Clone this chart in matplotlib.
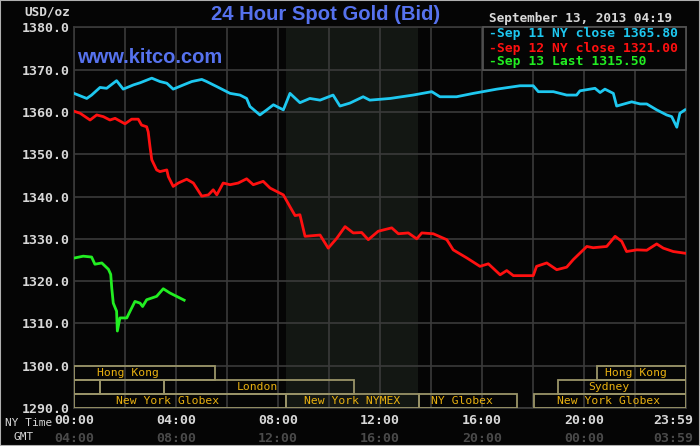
import matplotlib
matplotlib.use("Agg")
import matplotlib.pyplot as plt
from matplotlib.patches import Rectangle

# ---------------- data ----------------
sep11_hours = [0, 0.5, 0.69, 1.02, 1.28, 1.67, 1.93, 2.33, 2.59, 3.05, 3.37, 3.64, 3.89, 4.29, 4.62,
               5.01, 5.2, 5.6, 6.12, 6.51, 6.77, 6.9, 7.29, 7.56, 7.82, 8.21, 8.47, 8.86, 9.25, 9.65,
               10.16, 10.43, 10.82, 11.34, 11.6, 12.4, 13.3, 14.03, 14.35, 15.0, 15.66, 16.58, 17.49,
               18.01, 18.21, 18.8, 19.32, 19.71, 19.84, 20.43, 20.63, 20.82, 21.15, 21.28, 21.87, 22.2,
               22.46, 22.85, 23.24, 23.44, 23.64, 23.76, 23.96]
sep11_values = [1364.4, 1363.2, 1364.0, 1365.8, 1365.6, 1367.4, 1365.4, 1366.4, 1366.9, 1368.0, 1367.2,
                1366.8, 1365.4, 1366.4, 1367.2, 1367.7, 1367.2, 1366.0, 1364.4, 1364.0, 1363.2, 1361.3,
                1359.3, 1360.5, 1361.7, 1360.5, 1364.4, 1362.2, 1363.2, 1362.8, 1364.0, 1361.4, 1362.1,
                1363.6, 1362.8, 1363.2, 1364.0, 1364.8, 1363.6, 1363.6, 1364.4, 1365.4, 1366.2, 1366.2,
                1364.8, 1364.8, 1364.0, 1364.0, 1365.0, 1365.6, 1364.6, 1365.4, 1364.4, 1361.4, 1362.4,
                1361.9, 1361.9, 1360.5, 1359.3, 1358.9, 1356.4, 1359.7, 1360.5]

sep12_hours = [0.04, 0.24, 0.63, 0.89, 1.15, 1.41, 1.61, 2.0, 2.26, 2.52, 2.65, 2.85, 2.91, 2.98, 3.05,
               3.24, 3.37, 3.64, 3.7, 3.89, 4.09, 4.42, 4.68, 5.01, 5.27, 5.46, 5.6, 5.85, 6.12, 6.44,
               6.77, 7.03, 7.42, 7.69, 8.21, 8.47, 8.67, 8.86, 9.06, 9.65, 9.97, 10.3, 10.63, 10.95,
               11.28, 11.54, 11.93, 12.46, 12.72, 13.11, 13.44, 13.64, 14.09, 14.62, 14.87, 15.4,
               15.92, 16.25, 16.71, 16.97, 17.23, 18.01, 18.14, 18.54, 18.93, 19.32, 19.58, 20.11,
               20.36, 20.89, 21.22, 21.48, 21.67, 22.07, 22.46, 22.85, 23.11, 23.5, 23.96]
sep12_values = [1360.1, 1359.7, 1358.1, 1359.3, 1358.9, 1358.1, 1358.5, 1357.2, 1358.3, 1358.3, 1356.9,
                1356.5, 1355.3, 1351.8, 1348.7, 1346.3, 1345.9, 1346.3, 1344.7, 1342.4, 1343.2, 1344.1,
                1343.2, 1340.1, 1340.4, 1341.6, 1340.4, 1343.2, 1342.8, 1343.2, 1344.2, 1342.8, 1343.6,
                1342.0, 1340.4, 1337.6, 1335.5, 1335.7, 1330.6, 1330.9, 1327.8, 1330.1, 1332.9, 1331.4,
                1331.5, 1329.8, 1331.8, 1332.6, 1331.2, 1331.4, 1330.0, 1331.4, 1331.2, 1329.8, 1327.4,
                1325.5, 1323.5, 1324.1, 1321.5, 1322.5, 1321.3, 1321.3, 1323.5, 1324.3, 1322.7, 1323.3,
                1325.1, 1328.2, 1327.9, 1328.2, 1330.6, 1329.4, 1327.0, 1327.4, 1327.3, 1328.8, 1327.8,
                1327.0, 1326.6]

sep13_hours = [0.04, 0.36, 0.69, 0.82, 1.09, 1.35, 1.44, 1.48, 1.54, 1.67, 1.7, 1.8, 2.07, 2.2, 2.39,
               2.59, 2.69, 2.85, 3.24, 3.5, 3.76, 4.09, 4.32]
sep13_values = [1325.5, 1325.9, 1325.7, 1324.0, 1324.3, 1322.8, 1321.6, 1318.4, 1314.8, 1312.9, 1308.2,
                1311.3, 1311.3, 1312.9, 1315.2, 1314.8, 1314.0, 1315.6, 1316.4, 1318.2, 1317.2, 1316.2,
                1315.5]

legend_labels = ["-Sep 11 NY close 1365.80", "-Sep 12 NY close 1321.00", "-Sep 13 Last 1315.50"]

y_ticks = [1290, 1300, 1310, 1320, 1330, 1340, 1350, 1360, 1370, 1380]
x_tick_hours = [0, 4, 8, 12, 16, 20, 24]
ny_time_labels = ["00:00", "04:00", "08:00", "12:00", "16:00", "20:00", "23:59"]
gmt_labels = ["04:00", "08:00", "12:00", "16:00", "20:00", "00:00", "03:59"]

nymex_pit = (8.33, 13.5)

# sessions: (row, start hour, end hour, label, label centre hour)
sessions = [
    (0, 0.0, 5.53, "Hong Kong", 2.12),
    (0, 20.52, 24.0, "Hong Kong", 22.04),
    (1, 0.0, 1.02, "", None),
    (1, 1.02, 3.53, "", None),
    (1, 3.53, 10.98, "London", 7.2),
    (1, 18.99, 24.0, "Sydney", 20.96),
    (2, 0.0, 8.31, "New York Globex", 3.67),
    (2, 8.31, 13.53, "New York NYMEX", 10.9),
    (2, 13.53, 17.36, "NY Globex", 15.2),
    (2, 18.05, 24.0, "New York Globex", 20.96),
]

# ---------------- styling ----------------
W, H = 700, 446
BG = "#050505"
GRID = "#3a3a3a"
CYAN = "#1ec8f0"
RED = "#ff1010"
GREEN = "#22ee22"
BLUE = "#5672ee"
LIGHT = "#d8d8d8"
BOX_EDGE = "#9a9468"
BOX_TEXT = "#e8b010"
MONO = "DejaVu Sans Mono"

fig = plt.figure(figsize=(W / 100, H / 100), dpi=100, facecolor=BG)
left, right, top, bottom = 74, 686, 27.4, 408
ax = fig.add_axes([left / W, 1 - bottom / H, (right - left) / W, (bottom - top) / H])
ax.set_facecolor(BG)
ax.set_xlim(0, 24)
ax.set_ylim(1290, 1380)

ax.axvspan(*nymex_pit, color="#131713", zorder=0, lw=0)

ax.set_xticks(range(0, 25, 2))
ax.set_xticklabels([])
ax.set_yticks(y_ticks)
ax.set_yticklabels([f"{v:.1f}" for v in y_ticks], fontfamily=MONO, fontweight="bold",
                   fontsize=9.5, color=LIGHT)
ax.tick_params(length=0, pad=3)
ax.grid(True, color=GRID, lw=1.2, zorder=1)
for s in ax.spines.values():
    s.set_color(GRID)
    s.set_linewidth(1.2)

ax.plot(sep11_hours, sep11_values, color=CYAN, lw=2.0, zorder=3)
ax.plot(sep12_hours, sep12_values, color=RED, lw=2.0, zorder=3)
ax.plot(sep13_hours, sep13_values, color=GREEN, lw=2.0, zorder=3)

# sessions
row_h = 10 / 3
for row, s, e, lab, cx in sessions:
    y0 = 1300 - (row + 1) * row_h
    ax.add_patch(Rectangle((s, y0), e - s, row_h, fill=False, edgecolor=BOX_EDGE, lw=1.3, zorder=4))
    if lab:
        ax.text(cx, y0 + row_h / 2, lab, ha="center", va="center", fontfamily=MONO,
                fontsize=8.2, color=BOX_TEXT, zorder=5)

# time labels
xt = ax.get_xaxis_transform()
for i, (h, a, g) in enumerate(zip(x_tick_hours, ny_time_labels, gmt_labels)):
    hx = h - 0.5 if i == len(x_tick_hours) - 1 else h
    ax.text(hx, -0.034, a, transform=xt, ha="center", va="center", fontfamily=MONO,
            fontweight="bold", fontsize=9.5, color=LIGHT, clip_on=False)
    ax.text(hx, -0.079, g, transform=xt, ha="center", va="center", fontfamily=MONO,
            fontweight="bold", fontsize=9.5, color="#4a4a4a", clip_on=False)

def fx(px):
    return px / W

def fy(py):
    return 1 - py / H

fig.text(fx(5), fy(423), "NY Time", fontfamily=MONO, fontsize=8, color=LIGHT, va="center")
fig.text(fx(14), fy(437), "GMT", fontfamily=MONO, fontsize=8, color=LIGHT, va="center")
fig.text(fx(24), fy(12), "USD/oz", fontfamily=MONO, fontweight="bold", fontsize=9.2,
         color=LIGHT, va="center")
fig.text(fx(326), fy(20.5), "24 Hour Spot Gold (Bid)", fontfamily="Liberation Sans",
         fontweight="bold", fontsize=14.6, color=BLUE, ha="center", va="baseline")
fig.text(fx(77), fy(63), "www.kitco.com", fontfamily="Liberation Sans", fontweight="bold",
         fontsize=14.5, color=BLUE, ha="left", va="baseline")
fig.text(fx(489), fy(18.5), "September 13, 2013 04:19", fontfamily=MONO, fontweight="bold",
         fontsize=9.2, color=LIGHT, va="center")

# legend box
lx0 = (483 - left) / (right - left)
ly0 = (bottom - 70) / (bottom - top)
ax.add_patch(Rectangle((lx0, ly0), 1 - lx0, 1 - ly0, transform=ax.transAxes, facecolor=BG,
                       edgecolor="#555555", lw=1.2, zorder=6, clip_on=False))
for lab, col, py in zip(legend_labels, [CYAN, RED, GREEN], [34, 48.3, 61.7]):
    fig.text(fx(489), fy(py), lab, fontfamily=MONO, fontweight="bold", fontsize=9.4,
             color=col, va="center", zorder=7)

# outer frame
fig.patches.append(Rectangle((0, 0), 1, 1, transform=fig.transFigure, fill=False,
                             edgecolor="#b0b0b0", lw=1.5))

fig.savefig("out.png", dpi=100, facecolor=BG)
